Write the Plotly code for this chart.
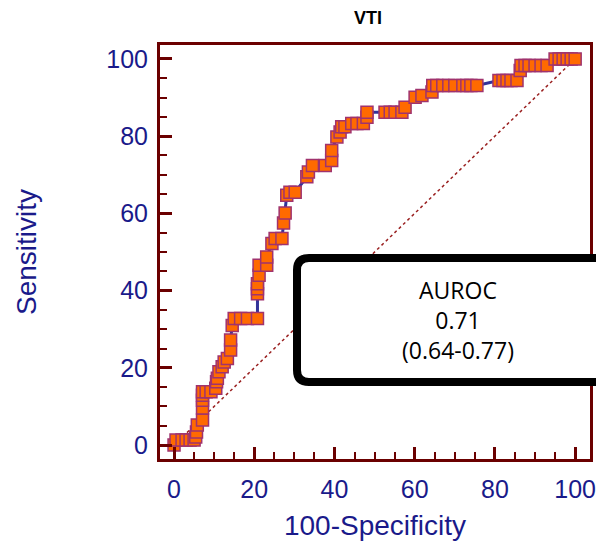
import plotly.graph_objects as go

# ROC curve points (100-Specificity, Sensitivity)
fpr = [0, 0.5, 2, 3, 4, 5, 5.4, 5.6, 5.8, 7.1, 7.1, 7.1, 7.1, 7.1, 8, 9.2,
       10.4, 10.6, 10.8, 11.2, 12, 12.5, 13.3, 14.1, 14.1, 14.5, 15, 16.6, 18.3, 20.8,
       20.8, 20.8, 20.8, 21.2, 21.2, 23.1, 23.1, 24.4, 25.2, 26.9, 27.3, 27.7, 28.1, 28.9,
       30.2, 33.1, 33.5, 34.5, 37.7, 39.3, 39.3, 40.6, 41.4, 41.8, 42.6, 44.3, 45.6, 47.2,
       48.1, 48.1, 52.6, 53.9, 55.1, 56.8, 57.6, 60.1, 61.8, 64.3, 64.5, 65.5, 67, 68.5,
       70, 72, 73, 74, 75.5, 81, 82, 83, 84, 85.5, 86.3, 86.5, 87.5, 88.5, 90, 91.5,
       93, 95, 96, 97, 98, 99, 100]
tpr = [0, 1.3, 1.3, 1.3, 1.3, 1.3, 2.1, 3.4, 5.2, 6.5, 9.6, 11.6, 12.9, 13.8, 13.8, 13.8,
       14.7, 16.4, 17.3, 19, 20.3, 21.5, 22.4, 24.6, 27.2, 31, 32.8, 32.8, 32.8, 32.8,
       39.2, 40.5, 41.8, 44, 46.6, 46.6, 48.7, 52.2, 53.5, 53.5, 57.5, 60.1, 64.7, 65.5,
       65.5, 69.5, 70.7, 72.4, 72.4, 73.7, 76.3, 79.8, 81.1, 82.4, 82.4, 83.3, 83.3, 83.3,
       84.9, 86.2, 86.2, 86.2, 86.2, 86.2, 87.5, 90.1, 90.5, 91.4, 93.1, 93.1, 93.1, 93.1,
       93.1, 93.1, 93.1, 93.1, 93.1, 94.4, 94.4, 94.4, 94.4, 94.4, 97, 98.3, 98.3, 98.3,
       98.3, 98.3, 98.3, 100, 100, 100, 100, 100, 100]

x_ticks = [0, 20, 40, 60, 80, 100]
y_ticks = [0, 20, 40, 60, 80, 100]
ref_line = [0, 100]
auc_text = ["AUROC", "0.71", "(0.64-0.77)"]

AX = "#6B0000"
NAVY = "#1A1A8A"

fig = go.Figure()
fig.add_trace(go.Scatter(x=ref_line, y=ref_line, mode="lines",
                         line=dict(color="#9A2020", width=1.5, dash="dot"),
                         hoverinfo="skip", showlegend=False))
fig.add_trace(go.Scatter(x=fpr, y=tpr, mode="lines+markers",
                         line=dict(color="#333399", width=3),
                         marker=dict(symbol="square", size=12, color="#FF6A00",
                                     line=dict(color="#A0336E", width=1.5)),
                         showlegend=False))

OFF = 8  # page body margin
W, H = 604, 550
# target plot area on the page: x 160..590, y 45..459
L, T = 160 - OFF, 45 - OFF
R = W - (590 - OFF)
B = H - (459 - OFF)
pw, ph = W - L - R, H - T - B


def px(x):
    return (x - OFF - L) / pw


def py(y):
    return (H - B - (y - OFF)) / ph


x0, x1, y0, y1, r = 297, 680, 258, 382, 12
path = (f"M {px(x0 + r)} {py(y0)} L {px(x1)} {py(y0)} L {px(x1)} {py(y1)} "
        f"L {px(x0 + r)} {py(y1)} Q {px(x0)} {py(y1)} {px(x0)} {py(y1 - r)} "
        f"L {px(x0)} {py(y0 + r)} Q {px(x0)} {py(y0)} {px(x0 + r)} {py(y0)} Z")
fig.add_shape(type="path", path=path, xref="paper", yref="paper",
              fillcolor="white", line=dict(color="black", width=8), layer="above")
fig.add_annotation(x=px(458), y=py(320), xref="paper", yref="paper",
                   xanchor="center", yanchor="middle",
                   text="<br>".join(auc_text), showarrow=False,
                   font=dict(family="Open Sans", size=23, color="black"), align="center")

axis_common = dict(showline=True, linewidth=3, linecolor=AX, mirror=True,
                   ticks="inside", ticklen=12, tickwidth=3, tickcolor=AX,
                   showgrid=False, zeroline=False,
                   tickfont=dict(family="Liberation Sans", size=25, color=NAVY),
                   minor=dict(ticks="inside", ticklen=7, tickwidth=2, tickcolor=AX, dtick=5,
                              showgrid=False))

fig.update_layout(
    width=W, height=H, margin=dict(l=L, r=R, t=T, b=B),
    paper_bgcolor="white", plot_bgcolor="white",
    title=dict(text="<b>VTI</b>", x=px(368) * pw / W + L / W, xanchor="center",
               y=1 - (18 - OFF) / H, yanchor="middle",
               font=dict(family="Liberation Sans", size=18, color="black")),
    xaxis=dict(range=[-3.5, 103.7], tickvals=x_ticks, ticklabelstandoff=6, **axis_common,
               title=dict(text="100-Specificity", standoff=14,
                          font=dict(family="Liberation Sans", size=28, color=NAVY))),
    yaxis=dict(range=[-3.6, 103.6], tickvals=y_ticks, ticklabelstandoff=4, **axis_common,
               title=dict(text="Sensitivity", standoff=62,
                          font=dict(family="Liberation Sans", size=28, color=NAVY))),
)

fig.write_html("out.html")
